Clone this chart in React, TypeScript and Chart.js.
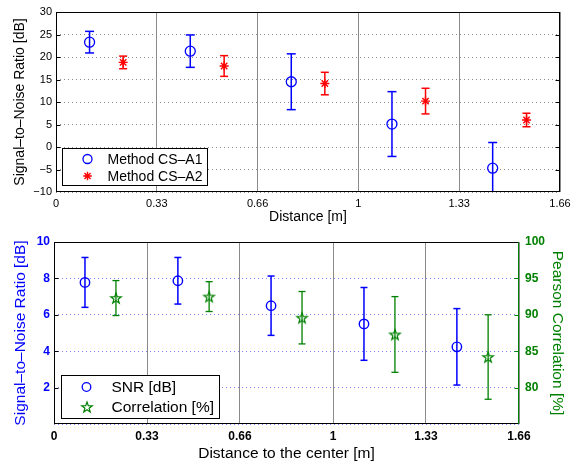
import React, { useEffect, useRef } from 'react';
import { Chart, registerables } from 'chart.js';

Chart.register(...registerables);

// ---------- data ----------
const xTickValues = [0, 1 / 3, 2 / 3, 1, 4 / 3, 5 / 3];
const xTickLabels = ['0', '0.33', '0.66', '1', '1.33', '1.66'];
const distA = [0.111, 0.444, 0.778, 1.111, 1.444];
const distB = [0.222, 0.556, 0.889, 1.222, 1.556];

// top panel
const topSeriesNames = ['Method CS\u2013A1', 'Method CS\u2013A2'];
const csA1Mean = [23.3, 21.3, 14.5, 5.1, -4.7];
const csA1Err = [2.4, 3.6, 6.2, 7.2, 5.7];
const csA2Mean = [18.8, 18.0, 14.1, 10.2, 6.0];
const csA2Err = [1.4, 2.3, 2.5, 2.85, 1.5];
const topYTicks = [-10, -5, 0, 5, 10, 15, 20, 25, 30];

// bottom panel
const bottomSeriesNames = ['SNR [dB]', 'Correlation [%]'];
const snrMean = [7.78, 7.87, 6.5, 5.5, 4.24];
const snrErr = [1.37, 1.28, 1.63, 2.0, 2.1];
const corrMean = [92.3, 92.5, 89.6, 87.3, 84.2];
const corrErr = [2.4, 2.05, 3.6, 5.2, 5.8];
const snrTicks = [0, 2, 4, 6, 8, 10];
const corrTicks = [75, 80, 85, 90, 95, 100];

// ---------- styles ----------
const FONT = "'Liberation Sans', Arial, Helvetica, sans-serif";
const BLUE = '#0000ff';
const RED = '#ff0000';
const GREEN = '#008000';

function fmt(v: number) {
  return v < 0 ? '\u2212' + Math.abs(v) : String(v);
}

function whiskers(xs: number[], m: number[], e: number[]) {
  const out: any[] = [];
  xs.forEach((x, i) => {
    out.push({ x, y: m[i] - e[i] }, { x, y: m[i] + e[i] }, { x, y: null });
  });
  return out;
}
function caps(xs: number[], m: number[], e: number[]) {
  const out: any[] = [];
  xs.forEach((x, i) => {
    out.push({ x, y: m[i] - e[i] }, { x, y: m[i] + e[i] });
  });
  return out;
}
function centers(xs: number[], m: number[]) {
  return xs.map((x, i) => ({ x, y: m[i] }));
}

function makePentagram(r: number, color: string, lw: number) {
  const size = Math.ceil(2 * r + lw * 2 + 2);
  const c = document.createElement('canvas');
  c.width = size;
  c.height = size;
  const ctx = c.getContext('2d')!;
  const cx = size / 2;
  const cy = size / 2 + 0.5;
  ctx.beginPath();
  for (let k = 0; k < 10; k++) {
    const rad = k % 2 === 0 ? r : r * 0.4;
    const a = -Math.PI / 2 + (k * Math.PI) / 5;
    const px = cx + rad * Math.cos(a);
    const py = cy + rad * Math.sin(a);
    if (k === 0) ctx.moveTo(px, py);
    else ctx.lineTo(px, py);
  }
  ctx.closePath();
  ctx.strokeStyle = color;
  ctx.lineWidth = lw;
  ctx.stroke();
  return c;
}

function errorSets(xs: number[], m: number[], e: number[], color: string, axis: string, capR: number, lw: number) {
  return [
    {
      type: 'scatter',
      data: whiskers(xs, m, e),
      showLine: true,
      spanGaps: false,
      borderColor: color,
      borderWidth: lw,
      pointRadius: 0,
      yAxisID: axis,
    },
    {
      type: 'scatter',
      data: caps(xs, m, e),
      pointStyle: 'line',
      pointRadius: capR,
      borderColor: color,
      pointBorderWidth: lw,
      borderWidth: lw,
      yAxisID: axis,
    },
  ];
}

function xScale(tickFont: any, tickPad: number, title: string, titleFont: any, titlePad: number, height: number) {
  return {
    type: 'linear',
    min: 0,
    max: 5 / 3,
    afterBuildTicks: (s: any) => {
      s.ticks = xTickValues.map((v) => ({ value: v }));
    },
    afterFit: (s: any) => {
      s.height = height;
    },
    ticks: {
      callback: (_v: any, i: number) => xTickLabels[i],
      font: tickFont,
      color: '#000',
      padding: tickPad,
      autoSkip: false,
      maxRotation: 0,
    },
    grid: { color: '#8a8a8a', lineWidth: 1, drawTicks: false },
    border: { display: false },
    title: {
      display: true,
      text: title,
      font: titleFont,
      color: '#000',
      padding: { top: 0, bottom: titlePad },
    },
  };
}

type Side = { color: string; ticks?: number[]; scaleId?: string };

function frameAndLegend(
  id: string,
  sides: { top: string; bottom: string; left: Side; right: Side },
  legend: { names: string[]; markers: ((ctx: CanvasRenderingContext2D, x: number, y: number) => void)[]; font: string; offX: number; offBottom: number; height: number; markX: number; textX: number; rows: number[]; padR: number }
) {
  return {
    id,
    afterDraw(chart: any) {
      const ctx: CanvasRenderingContext2D = chart.ctx;
      const a = chart.chartArea;
      const L = Math.round(a.left) + 0.5;
      const R = Math.round(a.right) - 0.5;
      const T = Math.round(a.top) + 0.5;
      const B = Math.round(a.bottom) - 0.5;
      ctx.save();
      ctx.lineWidth = 1;
      // inward ticks
      const drawTicks = (side: Side, isLeft: boolean) => {
        if (!side.ticks || !side.scaleId) return;
        const sc = chart.scales[side.scaleId];
        ctx.strokeStyle = side.color;
        ctx.beginPath();
        side.ticks.forEach((v) => {
          const y = Math.round(sc.getPixelForValue(v)) + 0.5;
          if (isLeft) {
            ctx.moveTo(L, y);
            ctx.lineTo(L + 4, y);
          } else {
            ctx.moveTo(R, y);
            ctx.lineTo(R - 4, y);
          }
        });
        ctx.stroke();
      };
      drawTicks(sides.left, true);
      drawTicks(sides.right, false);
      const seg = (c: string, x1: number, y1: number, x2: number, y2: number) => {
        ctx.strokeStyle = c;
        ctx.beginPath();
        ctx.moveTo(x1, y1);
        ctx.lineTo(x2, y2);
        ctx.stroke();
      };
      seg(sides.top, L - 0.5, T, R + 0.5, T);
      seg(sides.bottom, L - 0.5, B, R + 0.5, B);
      seg(sides.left.color, L, T - 0.5, L, B + 0.5);
      seg(sides.right.color, R, T - 0.5, R, B + 0.5);

      // legend
      ctx.font = legend.font;
      const tw = Math.max(...legend.names.map((n) => ctx.measureText(n).width));
      const bx = Math.round(a.left + legend.offX) + 0.5;
      const bb = Math.round(a.bottom - legend.offBottom) + 0.5;
      const bt = bb - legend.height;
      const bw = Math.round(legend.textX + tw + legend.padR);
      ctx.fillStyle = '#fff';
      ctx.fillRect(bx, bt, bw, legend.height);
      ctx.strokeStyle = '#000';
      ctx.lineWidth = 1;
      ctx.strokeRect(bx, bt, bw, legend.height);
      legend.names.forEach((n, i) => {
        const y = bt + legend.rows[i];
        legend.markers[i](ctx, bx + legend.markX, y);
        ctx.fillStyle = '#000';
        ctx.textBaseline = 'middle';
        ctx.textAlign = 'left';
        ctx.font = legend.font;
        ctx.fillText(n, bx + legend.textX, y + 1);
      });
      ctx.restore();
    },
  };
}

function circleMarker(r: number, color: string, lw: number) {
  return (ctx: CanvasRenderingContext2D, x: number, y: number) => {
    ctx.save();
    ctx.strokeStyle = color;
    ctx.lineWidth = lw;
    ctx.beginPath();
    ctx.arc(x, y, r, 0, Math.PI * 2);
    ctx.stroke();
    ctx.restore();
  };
}
function asteriskMarker(r: number, color: string, lw: number) {
  return (ctx: CanvasRenderingContext2D, x: number, y: number) => {
    ctx.save();
    ctx.strokeStyle = color;
    ctx.lineWidth = lw;
    ctx.beginPath();
    for (let k = 0; k < 4; k++) {
      const a = (k * Math.PI) / 4;
      ctx.moveTo(x - r * Math.cos(a), y - r * Math.sin(a));
      ctx.lineTo(x + r * Math.cos(a), y + r * Math.sin(a));
    }
    ctx.stroke();
    ctx.restore();
  };
}
function imageMarker(img: HTMLCanvasElement) {
  return (ctx: CanvasRenderingContext2D, x: number, y: number) => {
    ctx.drawImage(img, Math.round(x - img.width / 2), Math.round(y - img.height / 2));
  };
}

function TopChart() {
  const ref = useRef<HTMLCanvasElement>(null);
  useEffect(() => {
    const chart = new Chart(ref.current!, {
      type: 'scatter',
      data: {
        datasets: [
          ...errorSets(distA, csA1Mean, csA1Err, BLUE, 'y', 4.5, 1.5),
          {
            type: 'scatter',
            data: centers(distA, csA1Mean),
            pointStyle: 'circle',
            pointRadius: 5,
            borderColor: BLUE,
            backgroundColor: 'rgba(0,0,0,0)',
            pointBorderWidth: 1.3,
            yAxisID: 'y',
          },
          ...errorSets(distB, csA2Mean, csA2Err, RED, 'y', 4, 1.5),
          {
            type: 'scatter',
            data: centers(distB, csA2Mean),
            pointStyle: 'star',
            pointRadius: 4.5,
            borderColor: RED,
            backgroundColor: RED,
            pointBorderWidth: 1.4,
            yAxisID: 'y',
          },
        ] as any,
      },
      options: {
        responsive: false,
        animation: false,
        events: [],
        layout: { padding: { left: 0, top: 12, right: 17, bottom: 0 } },
        plugins: { legend: { display: false }, tooltip: { enabled: false } },
        scales: {
          x: xScale({ family: FONT, size: 11 }, 5, 'Distance [m]', { family: FONT, size: 14 }, 0, 34) as any,
          y: {
            type: 'linear',
            position: 'left',
            min: -10,
            max: 30,
            afterBuildTicks: (s: any) => {
              s.ticks = topYTicks.map((v) => ({ value: v }));
            },
            afterFit: (s: any) => {
              s.width = 56;
            },
            ticks: {
              callback: (v: any) => fmt(Number(v)),
              font: { family: FONT, size: 11 },
              color: '#000',
              padding: 4,
            },
            grid: { color: '#8c8c8c', lineWidth: 1, drawTicks: false },
            border: { display: false, dash: [1, 3] },
            title: {
              display: true,
              text: 'Signal\u2013to\u2013Noise Ratio [dB]',
              font: { family: FONT, size: 14 },
              color: '#000',
              padding: { top: 12, bottom: 0 },
            },
          },
        },
      },
      plugins: [
        frameAndLegend(
          'frameTop',
          {
            top: '#000',
            bottom: '#000',
            left: { color: '#000', ticks: topYTicks.slice(1, -1), scaleId: 'y' },
            right: { color: '#000', ticks: topYTicks.slice(1, -1), scaleId: 'y' },
          },
          {
            names: topSeriesNames,
            markers: [circleMarker(4.5, BLUE, 1.3), asteriskMarker(4.3, RED, 1.4)],
            font: `14px ${FONT}`,
            offX: 6,
            offBottom: 7,
            height: 37,
            markX: 25,
            textX: 45,
            rows: [10.5, 27.5],
            padR: 5,
          }
        ),
      ],
    } as any);
    return () => chart.destroy();
  }, []);
  return <canvas ref={ref} width={577} height={226} style={{ position: 'absolute', left: 0, top: 0, display: 'block' }} />;
}

function BottomChart() {
  const ref = useRef<HTMLCanvasElement>(null);
  useEffect(() => {
    const star = makePentagram(5.5, GREEN, 1.2);
    const chart = new Chart(ref.current!, {
      type: 'scatter',
      data: {
        datasets: [
          ...errorSets(distA, snrMean, snrErr, BLUE, 'y', 3.5, 1.5),
          {
            type: 'scatter',
            data: centers(distA, snrMean),
            pointStyle: 'circle',
            pointRadius: 4.7,
            borderColor: BLUE,
            backgroundColor: 'rgba(0,0,0,0)',
            pointBorderWidth: 1.4,
            yAxisID: 'y',
          },
          ...errorSets(distB, corrMean, corrErr, GREEN, 'y1', 3.5, 1.3),
          {
            type: 'scatter',
            data: centers(distB, corrMean),
            pointStyle: star,
            pointRadius: 5.5,
            borderColor: GREEN,
            yAxisID: 'y1',
          },
        ] as any,
      },
      options: {
        responsive: false,
        animation: false,
        events: [],
        layout: { padding: { left: 0, top: 16, right: 0, bottom: 0 } },
        plugins: { legend: { display: false }, tooltip: { enabled: false } },
        scales: {
          x: xScale({ family: FONT, size: 12, weight: 'bold' }, 5, 'Distance to the center [m]', { family: FONT, size: 15.5 }, 0, 39) as any,
          y: {
            type: 'linear',
            position: 'left',
            min: 0,
            max: 10,
            afterBuildTicks: (s: any) => {
              s.ticks = snrTicks.map((v) => ({ value: v }));
            },
            afterFit: (s: any) => {
              s.width = 54;
            },
            ticks: {
              callback: (v: any) => (Number(v) === snrTicks[0] ? '' : String(v)),
              font: { family: FONT, size: 12, weight: 'bold' },
              color: BLUE,
              padding: 4,
            },
            grid: { color: '#8080ff', lineWidth: 1, drawTicks: false },
            border: { display: false, dash: [1, 3] },
            title: {
              display: true,
              text: 'Signal\u2013to\u2013Noise Ratio [dB]',
              font: { family: FONT, size: 15.5 },
              color: BLUE,
              padding: { top: 11, bottom: 0 },
            },
          },
          y1: {
            type: 'linear',
            position: 'right',
            min: 75,
            max: 100,
            afterBuildTicks: (s: any) => {
              s.ticks = corrTicks.map((v) => ({ value: v }));
            },
            afterFit: (s: any) => {
              s.width = 58;
            },
            ticks: {
              callback: (v: any) => (Number(v) === corrTicks[0] ? '' : String(v)),
              font: { family: FONT, size: 12, weight: 'bold' },
              color: GREEN,
              padding: 6,
            },
            grid: { display: false, drawTicks: false },
            border: { display: false },
            title: {
              display: true,
              text: 'Pearson Correlation [%]',
              font: { family: FONT, size: 15.5 },
              color: GREEN,
              padding: { top: 10, bottom: 0 },
            },
          },
        },
      },
      plugins: [
        frameAndLegend(
          'frameBottom',
          {
            top: '#000',
            bottom: '#000',
            left: { color: '#000', ticks: snrTicks.slice(1, -1), scaleId: 'y' },
            right: { color: GREEN, ticks: corrTicks.slice(1, -1), scaleId: 'y1' },
          },
          {
            names: bottomSeriesNames,
            markers: [circleMarker(4.3, BLUE, 1.3), imageMarker(star)],
            font: `15.5px ${FONT}`,
            offX: 7,
            offBottom: 6,
            height: 43,
            markX: 25,
            textX: 50,
            rows: [11.5, 31.5],
            padR: 5,
          }
        ),
      ],
    } as any);
    return () => chart.destroy();
  }, []);
  return <canvas ref={ref} width={577} height={237} style={{ position: 'absolute', left: 0, top: 226, display: 'block' }} />;
}

export default function App() {
  return (
    <div style={{ position: 'absolute', left: 0, top: 0, width: 577, height: 463, background: '#fff' }}>
      <TopChart />
      <BottomChart />
    </div>
  );
}
